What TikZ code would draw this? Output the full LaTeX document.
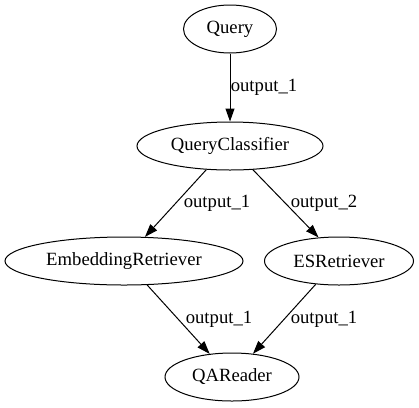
\documentclass[tikz,border=0pt]{standalone}
\usepackage{fontspec}
\setmainfont{Liberation Serif}
\usetikzlibrary{arrows.meta,shapes.geometric}

\begin{document}
\begin{tikzpicture}[x=1pt, y=-1pt, >={Triangle[length=13pt,width=9pt]},
 every node/.style={font=\fontsize{18.67}{22}\selectfont},
 comp/.style={draw, ellipse, line width=1pt, inner sep=0pt, minimum height=48pt},
 link/.style={->, line width=1pt},
 edgelabel/.style={inner sep=0pt}]
\useasboundingbox (0,0) rectangle (419,407);
\node[comp, minimum width=93pt] (query) at (230,29) {Query};
\node[comp, minimum width=186pt] (classifier) at (230,146) {QueryClassifier};
\node[comp, minimum width=238pt] (embret) at (124,261) {EmbeddingRetriever};
\node[comp, minimum width=149pt] (esret) at (339,261) {ESRetriever};
\node[comp, minimum width=134pt] (reader) at (232,377) {QAReader};
% edge labels
\node[edgelabel] (l1) at (264,87) {output\_1};
\node[edgelabel] (l2) at (217,203) {output\_1};
\node[edgelabel] (l3) at (324,203) {output\_2};
\node[edgelabel] (l4) at (219,319) {output\_1};
\node[edgelabel] (l5) at (324,319) {output\_1};
\draw[link] (query) -- (classifier);
\draw[link] (classifier.-135) -- (embret.49);
\draw[link] (classifier.-46) -- (esret.131);
\draw[link] (embret.-46) -- (reader.134);
\draw[link] (esret.-135) -- (reader.48);
\end{tikzpicture}
\end{document}
